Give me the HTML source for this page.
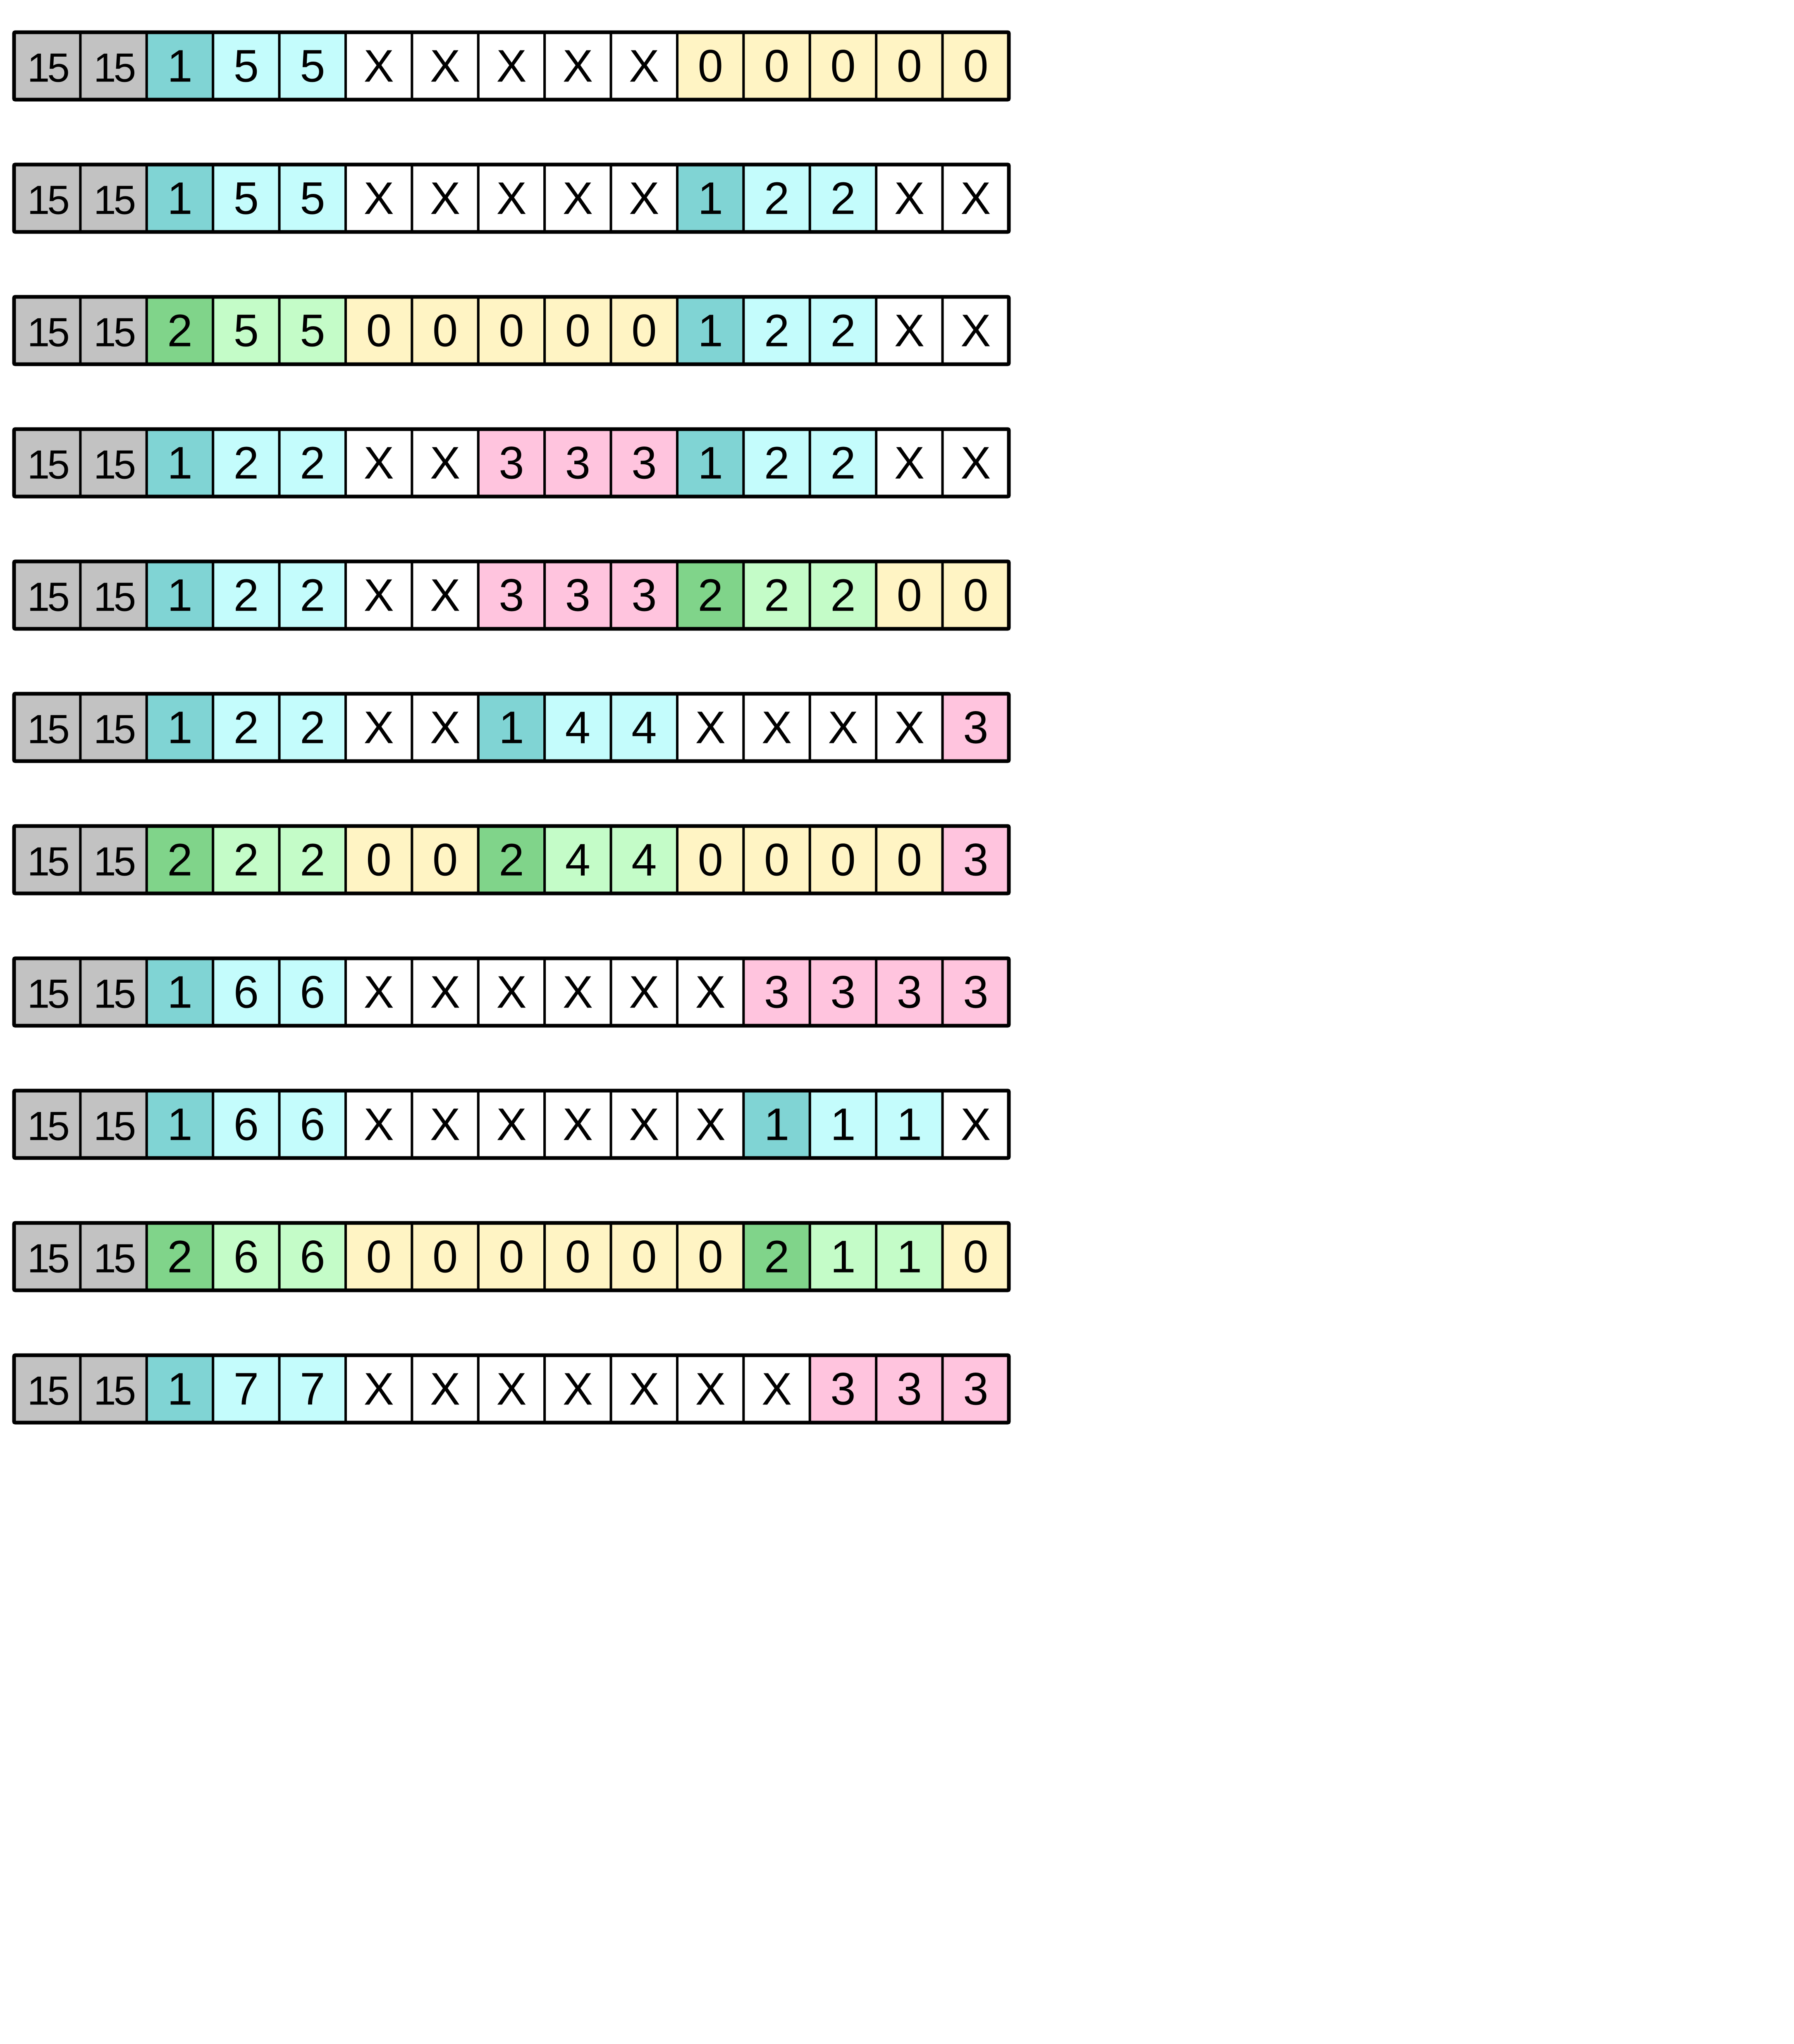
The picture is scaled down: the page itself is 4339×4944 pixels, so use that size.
<!DOCTYPE html>
<html><head><meta charset="utf-8"><style>
html,body{margin:0;padding:0;background:#fff;width:4339px;height:4944px;overflow:hidden}
svg{display:block}
</style></head><body>
<svg id="chart" width="4339" height="4944" xmlns="http://www.w3.org/2000/svg"></svg>
<script>
const rowValues = [
 "15 15 1 5 5 X X X X X 0 0 0 0 0",
 "15 15 1 5 5 X X X X X 1 2 2 X X",
 "15 15 2 5 5 0 0 0 0 0 1 2 2 X X",
 "15 15 1 2 2 X X 3 3 3 1 2 2 X X",
 "15 15 1 2 2 X X 3 3 3 2 2 2 0 0",
 "15 15 1 2 2 X X 1 4 4 X X X X 3",
 "15 15 2 2 2 0 0 2 4 4 0 0 0 0 3",
 "15 15 1 6 6 X X X X X X 3 3 3 3",
 "15 15 1 6 6 X X X X X X 1 1 1 X",
 "15 15 2 6 6 0 0 0 0 0 0 2 1 1 0",
 "15 15 1 7 7 X X X X X X X 3 3 3"
];
const rowTypes = [
 "ggTccwwwwwyyyyy",
 "ggTccwwwwwTccww",
 "ggGllyyyyyTccww",
 "ggTccwwpppTccww",
 "ggTccwwpppGllyy",
 "ggTccwwTccwwwwp",
 "ggGllyyGllyyyyp",
 "ggTccwwwwwwpppp",
 "ggTccwwwwwwTccw",
 "ggGllyyyyyyGlly",
 "ggTccwwwwwwwppp"
];
const fills = {g:"#c2c2c2",T:"#80d4d4",c:"#c4fcfc",w:"#ffffff",y:"#fff4c4",G:"#80d48a",l:"#c4fcc8",p:"#ffc4de"};
const NS="http://www.w3.org/2000/svg";
const svg=document.getElementById('chart');
const x0=34, cw=160.4, y0=78, pitch=320, rh=163;
rowValues.forEach((row,ri)=>{
  const vals=row.split(' ');
  const g=document.createElementNS(NS,'g');
  
  
  const y=y0+ri*pitch;
  vals.forEach((v,ci)=>{
    const r=document.createElementNS(NS,'rect');
    
    
    r.setAttribute('x',x0+ci*cw); r.setAttribute('y',y);
    r.setAttribute('width',cw); r.setAttribute('height',rh);
    r.setAttribute('fill',fills[rowTypes[ri][ci]]);
    r.setAttribute('stroke','#000'); r.setAttribute('stroke-width','6');
    g.appendChild(r);
    const t=document.createElementNS(NS,'text');
    
    
    t.setAttribute('x',x0+ci*cw+cw/2); t.setAttribute('y',y+rh/2+38);
    t.setAttribute('text-anchor','middle');
    t.setAttribute('font-family','"Liberation Sans", sans-serif');
    t.setAttribute('font-size', v==='15'?'98':'110');
    t.setAttribute('letter-spacing', v==='15'?'-6':'0');
    t.textContent=v;
    g.appendChild(t);
  });
  const o=document.createElementNS(NS,'rect');
  
  
  o.setAttribute('x',x0); o.setAttribute('y',y);
  o.setAttribute('width',cw*vals.length); o.setAttribute('height',rh);
  o.setAttribute('fill','none'); o.setAttribute('stroke','#000'); o.setAttribute('stroke-width','9');
  o.setAttribute('rx','3');
  g.appendChild(o);
  svg.appendChild(g);
});
</script>
</body></html>
